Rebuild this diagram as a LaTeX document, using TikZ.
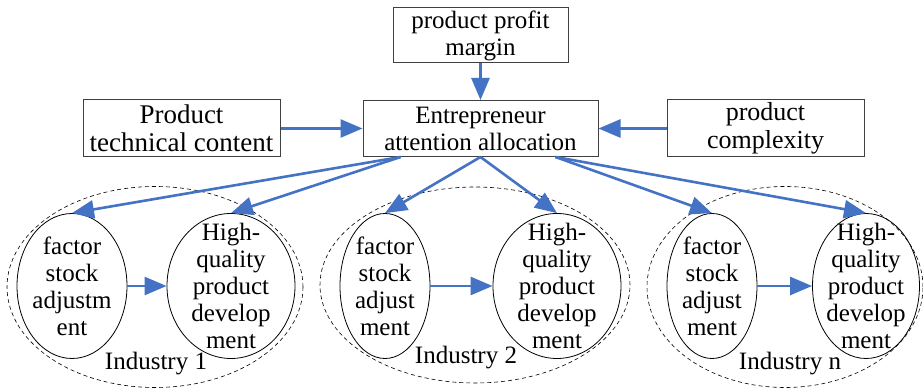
\documentclass[tikz,border=0pt]{standalone}
\usepackage{fontspec}
\setmainfont{Liberation Serif}
\usetikzlibrary{shapes.geometric,arrows.meta}
\definecolor{flowblue}{HTML}{4472C4}
\tikzset{node distance=2.5cm,auto}
\tikzset{
  txt/.style={font=\fontsize{12.5}{13.5}\selectfont,align=center,inner sep=0pt},
  box/.style={txt,draw=black!75,line width=0.5pt},
  cell/.style={draw,ellipse,line width=0.4pt,inner sep=0pt,minimum height=72.5pt,
    label={[txt]center:#1}},
  industry/.style={draw,ellipse,dash pattern=on 2pt off 1.5pt,line width=0.3pt,inner sep=0pt},
  flow/.style={-{Triangle[length=11pt,width=9pt]},draw=flowblue,line width=1.3pt}
}

\begin{document}
\begin{tikzpicture}[x=0.5pt,y=-0.5pt]
          \useasboundingbox (0,0) rectangle (923,389);

          \node[industry,minimum width=148pt,minimum height=100.5pt] (IND1) at (155,287) {};
          \node[industry,minimum width=155pt,minimum height=98pt]    (IND2) at (475,285) {};
          \node[industry,minimum width=138pt,minimum height=100.5pt] (INDn) at (785,287) {};

          \node[box,minimum width=87.5pt,minimum height=27.5pt] (PPM) at (480.5,35.5) {product profit\\margin};
          \node[box,minimum width=98.5pt,minimum height=28.5pt,font=\fontsize{13.5}{14}\selectfont] (PTC) at (181.5,128.5) {Product\\technical content};
          \node[box,minimum width=117.5pt,minimum height=28pt] (EAA) at (480.5,128.5) {Entrepreneur\\attention allocation};
          \node[box,minimum width=98.5pt,minimum height=28.5pt,font=\fontsize{13}{14}\selectfont] (PC)  at (765.5,128.5) {product\\complexity};

          \node[cell={factor\\stock\\adjustm\\ent},minimum width=55pt] (FSA1) at (72,286) {};
          \node[cell={High-\\quality\\product\\develop\\ment},minimum width=64pt] (HQD1) at (231,286) {};
          \node[cell={factor\\stock\\adjust\\ment},minimum width=45pt] (FSA2) at (385,286) {};
          \node[cell={High-\\quality\\product\\develop\\ment},minimum width=64pt] (HQD2) at (557,286) {};
          \node[cell={factor\\stock\\adjust\\ment},minimum width=45pt] (FSAn) at (712,286) {};
          \node[cell={High-\\quality\\product\\develop\\ment},minimum width=53.5pt] (HQDn) at (866,286) {};

          \node[txt] (LAB1) at (156,364) {Industry 1};
          \node[txt] (LAB2) at (466,358) {Industry 2};
          \node[txt] (LABn) at (790,364) {Industry n};

          \draw[flow] (PPM) to (EAA);
          \draw[flow] (PTC) to (EAA);
          \draw[flow] (PC) to (EAA);

          \draw[flow] ([xshift=-40pt]EAA.south) to (FSA1.north);
          \draw[flow] ([xshift=-40pt]EAA.south) to (HQD1.north);
          \draw[flow] (EAA.south) to (FSA2.north);
          \draw[flow] (EAA.south) to (HQD2.north);
          \draw[flow] ([xshift=37.5pt]EAA.south) to (FSAn.north);
          \draw[flow] ([xshift=37.5pt]EAA.south) to (HQDn.north);

          \draw[flow] (FSA1) to (HQD1);
          \draw[flow] (FSA2) to (HQD2);
          \draw[flow] (FSAn) to (HQDn);
        \end{tikzpicture}
\end{document}
